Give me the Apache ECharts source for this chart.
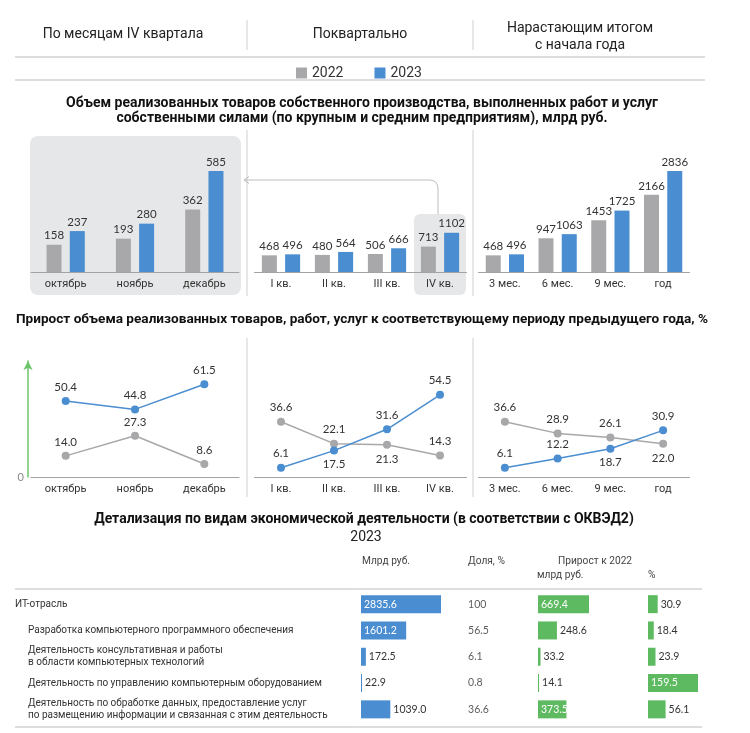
<!DOCTYPE html>
<html><head><meta charset="utf-8">
<script src="https://cdn.jsdelivr.net/npm/echarts@6/dist/echarts.min.js"></script>
<style>html,body{margin:0;padding:0;background:#fff}#c{width:750px;height:733px}</style>
</head><body><div id="c"></div>
<script>
// ---------- data ----------
const months = ['октябрь','ноябрь','декабрь'];
const quarters = ['I кв.','II кв.','III кв.','IV кв.'];
const cumPeriods = ['3 мес.','6 мес.','9 мес.','год'];
const month2022 = [158,193,362];
const month2023 = [237,280,585];
const quarter2022 = [468,480,506,713];
const quarter2023 = [496,564,666,1102];
const cum2022 = [468,947,1453,2166];
const cum2023 = [496,1063,1725,2836];
const monthGrowth2022 = [14.0,27.3,8.6];
const monthGrowth2023 = [50.4,44.8,61.5];
const quarterGrowth2022 = [36.6,22.1,21.3,14.3];
const quarterGrowth2023 = [6.1,17.5,31.6,54.5];
const cumGrowth2022 = [36.6,28.9,26.1,22.0];
const cumGrowth2023 = [6.1,12.2,18.7,30.9];
const activities = [
  'ИТ-отрасль',
  'Разработка компьютерного программного обеспечения',
  'Деятельность консультативная и работы\nв области компьютерных технологий',
  'Деятельность по управлению компьютерным оборудованием',
  'Деятельность по обработке данных, предоставление услуг\nпо размещению информации и связанная с этим деятельность'
];
const volume2023 = [2835.6,1601.2,172.5,22.9,1039.0];
const share2023 = [100,56.5,6.1,0.8,36.6];
const growthAbs = [669.4,248.6,33.2,14.1,373.5];
const growthPct = [30.9,18.4,23.9,159.5,56.1];

// ---------- label placement (style) ----------
const monthPos2022 = ['top','top','top'];
const monthPos2023 = ['top','top','top'];
const quarterPos2022 = ['top','top','bottom','top'];
const quarterPos2023 = ['top','bottom','top','top'];
const cumPos2022 = ['top','top','top','bottom'];
const cumPos2023 = ['top','top','bottom','top'];

const BLUE='#4a8dd0', GRAY='#a8a8aa', GREEN='#5dba60', AXIS='#a3a3a3', TXT='#333';
const FONT='Roboto, "Noto Sans", sans-serif';
const NUMFONT='Lato, Roboto, sans-serif';

const chart = echarts.init(document.getElementById('c'));

const barMaxMonth = Math.max(...month2022, ...month2023);
const barMaxCum = Math.max(...cum2022, ...cum2023, ...quarter2022, ...quarter2023);
const growthMax = Math.max(...monthGrowth2022, ...monthGrowth2023, ...quarterGrowth2022, ...quarterGrowth2023, ...cumGrowth2022, ...cumGrowth2023);

const cols = [{left:31,width:208},{left:254.5,width:212},{left:478.5,width:211}];
const grids = [];
cols.forEach(c => grids.push({left:c.left, width:c.width, top:171, height:101}));
cols.forEach(c => grids.push({left:c.left, width:c.width, top:361, height:116}));
[{left:361,width:80},{left:468,width:30},{left:538,width:51},{left:648,width:50}]
  .forEach(c => grids.push({left:c.left, width:c.width, top:591, height:131.5}));

const cats = [months, quarters, cumPeriods, months, quarters, cumPeriods];
const xAxis = cats.map((d,i) => ({
  type:'category', gridIndex:i, data:d,
  axisLine:{lineStyle:{color:AXIS}}, axisTick:{show:false},
  axisLabel:{color:TXT, fontSize:11, fontFamily:FONT, margin:7}
}));
[Math.max(...volume2023), 1, Math.max(...growthAbs), Math.max(...growthPct)].forEach((m,k) => {
  xAxis.push({type:'value', gridIndex:6+k, min:0, max:m, show:false});
});

const yAxis = [
  {type:'value', gridIndex:0, min:0, max:barMaxMonth, show:false},
  {type:'value', gridIndex:1, min:0, max:barMaxCum, show:false},
  {type:'value', gridIndex:2, min:0, max:barMaxCum, show:false},
  {type:'value', gridIndex:3, min:0, max:growthMax*1.25, offset:3,
    axisLine:{show:true, lineStyle:{color:'#6cc46c', width:1.5}, symbol:['none','arrow'], symbolSize:[7,9]},
    axisTick:{show:false}, splitLine:{show:false},
    axisLabel:{formatter:v => v===0 ? '0' : '', color:'#888', fontSize:11, fontFamily:NUMFONT, margin:4}},
  {type:'value', gridIndex:4, min:0, max:growthMax*1.25, show:false},
  {type:'value', gridIndex:5, min:0, max:growthMax*1.25, show:false}
];
for (let k=0;k<4;k++){
  const ax = {type:'category', gridIndex:6+k, data:activities, inverse:true,
    axisLine:{show:false}, axisTick:{show:false}, axisLabel:{show:false}};
  if (k===0){
    ax.axisLabel = {show:true, align:'left', margin:346,
      formatter:(val, idx) => val.split('\n').map(l => (idx===0?'{a|':'{b|') + l + '}').join('\n'),
      rich:{
        a:{fontSize:10, color:TXT, fontFamily:FONT, lineHeight:12},
        b:{fontSize:10, color:TXT, fontFamily:FONT, lineHeight:12, padding:[0,0,0,13]}
      }};
  }
  yAxis.push(ax);
}

const series = [];
function barPair(g, d22, d23){
  const lab = {show:true, position:'top', distance:3, color:TXT, fontSize:11.5, fontFamily:NUMFONT};
  series.push({type:'bar', name:'2022', xAxisIndex:g, yAxisIndex:g, data:d22, barWidth:15, barGap:'55%', itemStyle:{color:GRAY}, label:lab});
  series.push({type:'bar', name:'2023', xAxisIndex:g, yAxisIndex:g, data:d23, barWidth:15, barGap:'55%', itemStyle:{color:BLUE}, label:lab});
}
barPair(0, month2022, month2023);
barPair(1, quarter2022, quarter2023);
barPair(2, cum2022, cum2023);

function linePair(g, d22, p22, d23, p23){
  [[d22,p22,GRAY,'2022'],[d23,p23,BLUE,'2023']].forEach(([d,p,c,n]) => {
    series.push({type:'line', name:n, xAxisIndex:g, yAxisIndex:g,
      data:d.map((v,i)=>({value:v, label:{position:p[i]}})),
      symbol:'circle', symbolSize:8, itemStyle:{color:c}, lineStyle:{color:c, width:1.5},
      label:{show:true, color:TXT, fontSize:11.5, fontFamily:NUMFONT, distance:4, formatter:q => q.value.toFixed(1)}});
  });
}
linePair(3, monthGrowth2022, monthPos2022, monthGrowth2023, monthPos2023);
linePair(4, quarterGrowth2022, quarterPos2022, quarterGrowth2023, quarterPos2023);
linePair(5, cumGrowth2022, cumPos2022, cumGrowth2023, cumPos2023);

function tableBar(g, vals, color){
  const mx = Math.max(...vals);
  series.push({type:'bar', xAxisIndex:g, yAxisIndex:g, barWidth:18, barMinHeight:1, itemStyle:{color},
    data: vals.map(v => { const inside = v/mx > 0.5;
      return {value:v, label:{position: inside?'insideLeft':'right', color: inside?'#fff':TXT}}; }),
    label:{show:true, distance:3, fontSize:10.5, fontFamily:NUMFONT, formatter:p => p.value.toFixed(1)}});
}
tableBar(6, volume2023, BLUE);
series.push({type:'scatter', xAxisIndex:7, yAxisIndex:7, symbolSize:0.1, itemStyle:{color:'rgba(0,0,0,0)'},
  data: share2023.map((v,i)=>[0,i]),
  label:{show:true, position:'right', distance:0, color:TXT, fontSize:10.5, fontFamily:NUMFONT,
    formatter:p => { const v = share2023[p.dataIndex]; return Number.isInteger(v) ? String(v) : v.toFixed(1); }}});
tableBar(8, growthAbs, GREEN);
tableBar(9, growthPct, GREEN);

// ---------- graphics ----------
const SEP='#cfcfcf';
function vline(x,y1,y2,c){ return {type:'line', shape:{x1:x,y1:y1,x2:x,y2:y2}, style:{stroke:c||SEP, lineWidth:1}}; }
function hline(y,x1,x2,c){ return {type:'line', shape:{x1:x1,y1:y,x2:x2,y2:y}, style:{stroke:c||'#bbb', lineWidth:1}}; }
function txt(x,y,t,o){ o=o||{}; return {type:'text', x:x, y:y, style:Object.assign({text:t, fontSize:14, fontFamily:FONT, fill:'#222', align:'center', verticalAlign:'middle'}, o)}; }
const ARROW='#bdbdbd';

const elements = [
  {type:'rect', z:-1, shape:{x:30,y:136,width:211,height:159,r:8}, style:{fill:'#e6e7e8'}},
  {type:'rect', z:-1, shape:{x:414,y:214,width:52,height:81,r:6}, style:{fill:'#e6e7e8'}},
  vline(247,20,50), vline(473,20,50),
  vline(247,130,296), vline(473,130,296),
  vline(247,338,497), vline(473,338,497),
  hline(57,15,705), hline(80,15,705),
  txt(123,34,'По месяцам IV квартала'),
  txt(360,34,'Поквартально'),
  txt(580,37,'Нарастающим итогом\nс начала года',{lineHeight:17}),
  txt(362,111,'Объем реализованных товаров собственного производства, выполненных работ и услуг\nсобственными силами (по крупным и средним предприятиям), млрд руб.',{fontSize:14,fontWeight:'bold',lineHeight:15.5,fill:'#111'}),
  txt(16,320,'Прирост объема реализованных товаров, работ, услуг к соответствующему периоду предыдущего года, %',{fontSize:13.6,fontWeight:'bold',align:'left',fill:'#111'}),
  txt(364,519,'Детализация по видам экономической деятельности (в соответствии с ОКВЭД2)',{fontSize:14,fontWeight:'bold',fill:'#111'}),
  txt(366,537,'2023',{fontSize:14,fill:'#222'}),
  {type:'polyline', shape:{points:[[438,214],[438,189]]}, style:{stroke:ARROW, fill:'none', lineWidth:1}},
  {type:'bezierCurve', shape:{x1:438,y1:189,x2:429,y2:180,cpx1:438,cpy1:180}, style:{stroke:ARROW, fill:'none', lineWidth:1}},
  {type:'polyline', shape:{points:[[429,180],[245,180]]}, style:{stroke:ARROW, fill:'none', lineWidth:1}},
  {type:'polyline', shape:{points:[[249,176.5],[244,180],[249,183.5]]}, style:{stroke:ARROW, fill:'none', lineWidth:1}},
  txt(362,561,'Млрд руб.',{fontSize:10.2,align:'left',fill:'#444'}),
  txt(468,561,'Доля, %',{fontSize:10.2,align:'left',fill:'#444'}),
  txt(558,561,'Прирост к 2022',{fontSize:10.2,align:'left',fill:'#444'}),
  txt(537,575,'млрд руб.',{fontSize:10.2,align:'left',fill:'#444'}),
  txt(648,575,'%',{fontSize:10.2,align:'left',fill:'#444'}),
  hline(589,15,702), hline(727,15,702)
];

chart.setOption({
  animation:false,
  backgroundColor:'#fff',
  legend:{data:['2022','2023'], left:291, top:61, itemWidth:11, itemHeight:11, itemGap:31, icon:'rect',
    selectedMode:false, textStyle:{fontSize:14, color:'#333', fontFamily:FONT}},
  grid:grids, xAxis:xAxis, yAxis:yAxis, series:series,
  graphic:{elements:elements}
});
</script></body></html>
